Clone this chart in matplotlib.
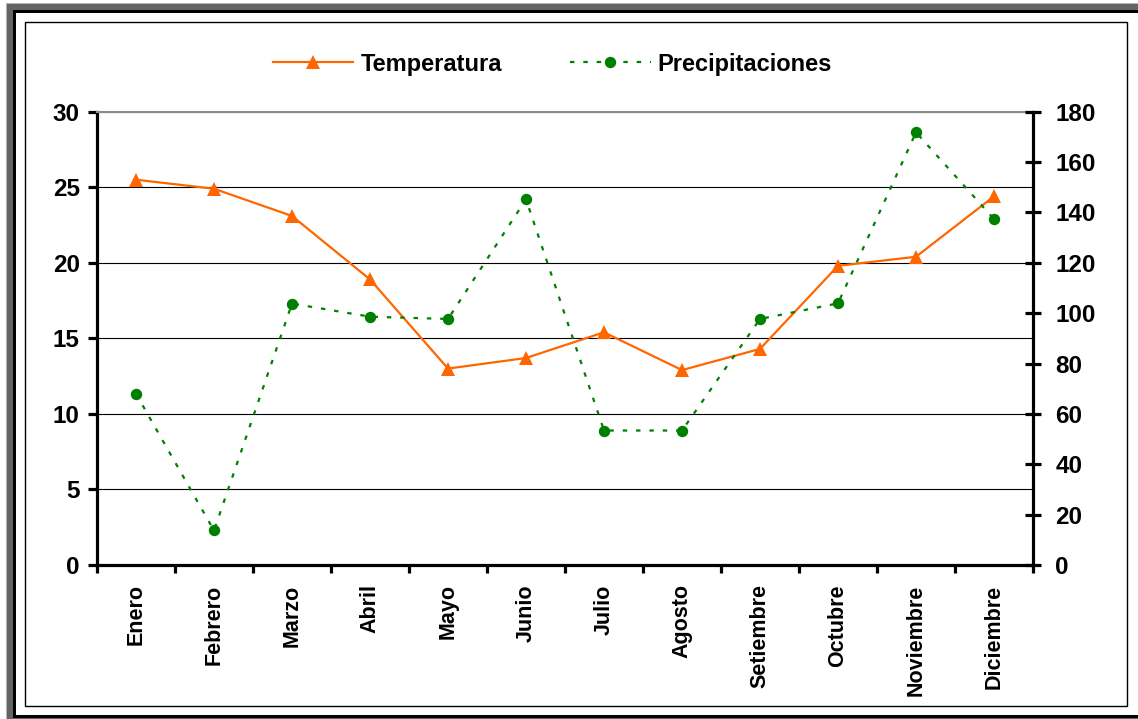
import numpy as np
import matplotlib.pyplot as plt
from matplotlib.lines import Line2D
from matplotlib.patches import Rectangle

# Datos mensuales
meses = ['Enero', 'Febrero', 'Marzo', 'Abril', 'Mayo', 'Junio', 'Julio',
         'Agosto', 'Setiembre', 'Octubre', 'Noviembre', 'Diciembre']
temperatura = [25.5, 24.9, 23.1, 18.9, 13.0, 13.7, 15.4, 12.9, 14.3, 19.8, 20.4, 24.4]
precipitaciones = [68.0, 13.7, 103.8, 98.6, 97.7, 145.2, 53.4, 53.4, 97.7, 103.9, 171.8, 137.4]

ticks_temp = np.arange(0, 31, 5)
ticks_prec = np.arange(0, 181, 20)

naranja = '#FF6600'
verde = '#008000'

plt.rcParams['font.family'] = ['Liberation Sans', 'DejaVu Sans']
plt.rcParams['font.weight'] = 'bold'

W, H = 1138, 719
fig = plt.figure(figsize=(W / 100, H / 100), dpi=100)


def caja(x0, y0, x1, y1, **kw):
    # rectangulo en pixeles, origen arriba a la izquierda
    r = Rectangle((x0 / W, 1 - y1 / H), (x1 - x0) / W, (y1 - y0) / H,
                  transform=fig.transFigure, **kw)
    fig.add_artist(r)


# Marco con sombra
caja(6, 3, 1145, 725, facecolor='#b4b4b4', edgecolor='none', zorder=-11)
caja(7, 4.5, 1145, 725, facecolor='#646464', edgecolor='none', zorder=-10)
caja(13, 9.5, 1145, 718, facecolor='black', edgecolor='none', zorder=-9)
caja(16, 12.5, 1145, 715, facecolor='white', edgecolor='none', zorder=-8)
caja(25, 22, 1127, 706, facecolor='none', edgecolor='black', linewidth=1.0, zorder=-7)

ax = fig.add_axes([97 / W, 1 - 565 / H, (1033 - 97) / W, (565 - 111.7) / H])
ax.set_facecolor('none')
ax2 = ax.twinx()

x = np.arange(len(meses))

estilo_temp = dict(color=naranja, linewidth=1.6, marker='^',
                   markersize=9.5, markeredgewidth=0)
estilo_prec = dict(color=verde, linewidth=1.6, linestyle=(0, (2, 4)),
                   marker='o', markersize=8.2, markeredgewidth=0)

ax.plot(x, temperatura, zorder=3, **estilo_temp)
ax2.plot(x, precipitaciones, zorder=3, **estilo_prec)

ax.set_xlim(-0.5, len(meses) - 0.5)
ax.set_ylim(0, 30)
ax2.set_ylim(0, 180)

# Cuadricula horizontal
ax.set_yticks(ticks_temp)
ax.yaxis.grid(True, color='black', linewidth=0.8)
ax.set_axisbelow(True)
ax2.set_yticks(ticks_prec)

# Ejes
for s in ['left', 'bottom']:
    ax.spines[s].set_linewidth(2.3)
ax.spines['right'].set_visible(False)
ax.spines['top'].set_color('#8c8c8c')
ax.spines['top'].set_linewidth(1.5)
for s in ['left', 'bottom', 'top']:
    ax2.spines[s].set_visible(False)
ax2.spines['right'].set_linewidth(2.3)

ax.tick_params(axis='y', direction='out', length=6.5, width=2.3, pad=6,
               labelsize=17.5)
ax2.tick_params(axis='y', direction='inout', length=12, width=2.3, pad=10,
                labelsize=17.5)

ax.set_xticks(x)
ax.set_xticklabels(meses, rotation=90, fontsize=15.5)
ax.tick_params(axis='x', which='major', length=0, pad=14)
ax.set_xticks(np.arange(-0.5, len(meses), 1), minor=True)
ax.tick_params(axis='x', which='minor', direction='out', length=5.5, width=2.3)

# Leyenda
h_temp = Line2D([], [], **estilo_temp)
h_prec = Line2D([], [], **estilo_prec)
fig.legend([h_temp, h_prec], ['Temperatura', 'Precipitaciones'],
           loc='center left', bbox_to_anchor=(273 / W, 1 - 64 / H),
           ncol=2, frameon=False, fontsize=17, borderpad=0, borderaxespad=0,
           handlelength=3.4, handletextpad=0.3, columnspacing=2.9)

fig.savefig('out.png', dpi=100)
